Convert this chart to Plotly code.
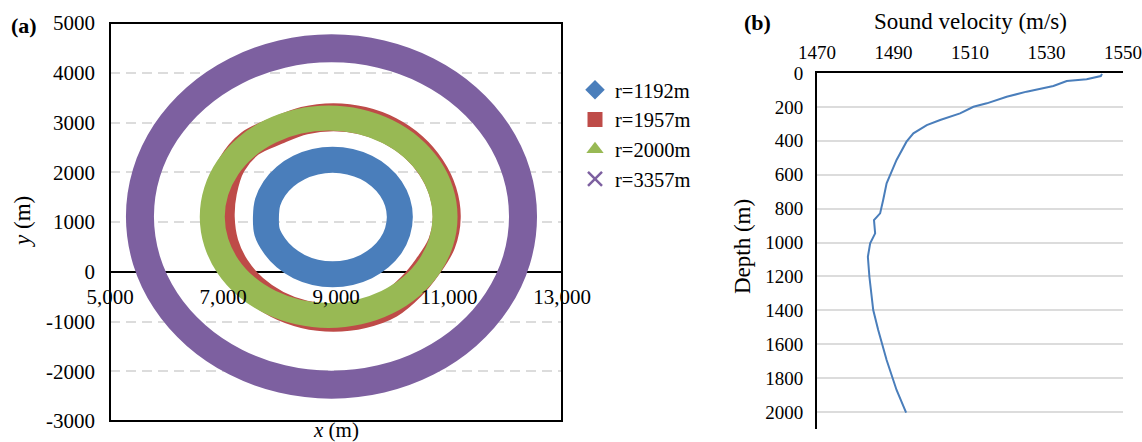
import plotly.graph_objects as go

# ---------------- data ----------------
series_names = ["r=1192m", "r=1957m", "r=2000m", "r=3357m"]
series_colors = ["#4a7ebb", "#be4b48", "#98b954", "#7d60a0"]
series_symbols = ["diamond", "square", "triangle-up", "x-thin"]

ring1192_x = [10130, 10089, 9971, 9781, 9535, 9248, 8940, 8632, 8345, 8099, 7909, 7791,
              7760, 7780, 7909, 8099, 8345, 8632, 8940, 9248, 9535, 9781, 9971, 10089]
ring1192_y = [1100, 1398, 1675, 1913, 2096, 2211, 2250, 2211, 2096, 1913, 1675, 1398,
              1100, 802, 525, 287, 104, -11, -50, -11, 104, 287, 525, 802]

ring1957_x = [10960, 10890, 10683, 10366, 9953, 9472, 8955, 8438, 7957, 7480, 7160, 7000,
              6960, 7028, 7227, 7544, 7957, 8438, 8955, 9472, 9953, 10330, 10620, 10870]
ring1957_y = [1090, 1612, 2098, 2515, 2835, 3036, 3105, 3036, 2835, 2580, 2160, 1612,
              1090, 568, 82, -335, -655, -856, -925, -856, -655, -300, 100, 568]

ring2000_x = [10930, 10860, 10654, 10327, 9900, 9403, 8870, 8337, 7840, 7413, 7086, 6880,
              6810, 6880, 7086, 7413, 7840, 8337, 8870, 9403, 9900, 10327, 10654, 10860]
ring2000_y = [1105, 1619, 2098, 2509, 2824, 3022, 3090, 3022, 2824, 2509, 2098, 1619,
              1105, 591, 112, -299, -614, -812, -880, -812, -614, -299, 112, 591]

ring3357_x = [12310, 12195, 11856, 11317, 10615, 9798, 8920, 8042, 7225, 6523, 5984, 5645,
              5530, 5645, 5984, 6523, 7225, 8042, 8920, 9798, 10615, 11317, 11856, 12195]
ring3357_y = [1110, 1985, 2800, 3500, 4037, 4375, 4490, 4375, 4037, 3500, 2800, 1985,
              1110, 235, -580, -1280, -1817, -2155, -2270, -2155, -1817, -1280, -580, 235]

ring_x = [ring1192_x, ring1957_x, ring2000_x, ring3357_x]
ring_y = [ring1192_y, ring1957_y, ring2000_y, ring3357_y]
ring_widths = [26, 28, 25, 28]

a_xticks = [5000, 7000, 9000, 11000, 13000]
a_xtick_labels = ["5,000", "7,000", "9,000", "11,000", "13,000"]
a_yticks = [-3000, -2000, -1000, 0, 1000, 2000, 3000, 4000, 5000]
a_ytick_labels = ["-3000", "-2000", "-1000", "0", "1000", "2000", "3000", "4000", "5000"]

svp_velocity = [1544.5, 1544.2, 1540.5, 1535.3, 1531.8, 1524.8, 1519.6, 1514.4, 1510.9,
                1507.4, 1502.2, 1498.7, 1495.2, 1493.4, 1490.8, 1488.2, 1487.3, 1486.5,
                1484.9, 1485.2, 1483.9, 1483.3, 1483.7, 1484.7, 1486.0, 1488.2, 1490.8, 1493.3]
svp_depth = [5, 18, 37, 47, 77, 110, 140, 179, 199, 238, 277, 307, 356, 405, 513, 651,
             749, 828, 867, 946, 1005, 1084, 1202, 1398, 1516, 1693, 1870, 2004]

b_xticks = [1470, 1490, 1510, 1530, 1550]
b_yticks = [0, 200, 400, 600, 800, 1000, 1200, 1400, 1600, 1800, 2000]

# ---------------- figure ----------------
W, H = 1142, 442
FONT = "Liberation Serif"

def px_x(p):
    return p / W

def px_y(p):
    return 1 - p / H

fig = go.Figure()

for xs, ys, c, w in zip(ring_x, ring_y, series_colors, ring_widths):
    fig.add_trace(go.Scatter(
        x=xs + xs[:1], y=ys + ys[:1], mode="lines",
        line=dict(color=c, width=w, shape="spline", smoothing=1.0),
        showlegend=False, hoverinfo="skip", xaxis="x", yaxis="y"))

for name, c, sym in zip(series_names, series_colors, series_symbols):
    mk = dict(symbol=sym, size=15, color=c)
    if sym == "x-thin":
        mk = dict(symbol=sym, size=14, color=c, line=dict(color=c, width=2.5))
    fig.add_trace(go.Scatter(x=[None], y=[None], mode="markers", name=name,
                             marker=mk, xaxis="x", yaxis="y"))

fig.add_trace(go.Scatter(x=svp_velocity, y=svp_depth, mode="lines",
                         line=dict(color="#4a7ebb", width=2),
                         showlegend=False, xaxis="x2", yaxis="y2"))

ya_dom = [px_y(421), px_y(23)]
yb_dom = [px_y(429), px_y(73)]
ya_range = [a_yticks[0], a_yticks[-1]]
zero_pos = ya_dom[0] + (0 - ya_range[0]) / (ya_range[1] - ya_range[0]) * (ya_dom[1] - ya_dom[0])

fig.update_layout(
    width=W, height=H,
    margin=dict(l=0, r=0, t=0, b=0),
    paper_bgcolor="white", plot_bgcolor="white",
    font=dict(family=FONT, color="black", size=21),
    xaxis=dict(domain=[px_x(110), px_x(562)], range=[a_xticks[0], a_xticks[-1]],
               tickvals=a_xticks, ticktext=a_xtick_labels, anchor="free", position=zero_pos,
               showgrid=False, zeroline=False, showline=False, ticks="",
               ticklabelstandoff=10, tickfont=dict(size=21), automargin=False),
    yaxis=dict(domain=ya_dom, range=ya_range, tickvals=a_yticks, ticktext=a_ytick_labels,
               showgrid=True, gridcolor="#dcdcdc", gridwidth=2, griddash="10px,6px",
               zeroline=True, zerolinecolor="black", zerolinewidth=2,
               showline=False, ticks="", ticklabelstandoff=14,
               tickfont=dict(size=21), automargin=False),
    xaxis2=dict(domain=[px_x(817), px_x(1123)], range=[b_xticks[0], b_xticks[-1]],
                tickvals=b_xticks, side="top", anchor="y2",
                showgrid=False, zeroline=False, showline=True, linecolor="black",
                linewidth=2, ticks="", ticklabelstandoff=4, tickfont=dict(size=19),
                automargin=False),
    yaxis2=dict(domain=yb_dom, range=[2100, 0], tickvals=b_yticks, anchor="x2",
                showgrid=True, gridcolor="#dcdcdc", gridwidth=2,
                zeroline=False, showline=True, linecolor="black", linewidth=2,
                ticks="", ticklabelstandoff=8, tickfont=dict(size=19), automargin=False),
    legend=dict(x=px_x(575), y=px_y(70), xanchor="left", yanchor="top",
                font=dict(size=20.5), itemwidth=30, tracegroupgap=0,
                bgcolor="rgba(0,0,0,0)"),
    showlegend=True,
)

fig.add_shape(type="rect", xref="paper", yref="paper",
              x0=px_x(110), x1=px_x(562), y0=ya_dom[0], y1=ya_dom[1],
              line=dict(color="black", width=2), layer="above")

annots = [
    dict(text="<b>(a)</b>", x=px_x(24), y=px_y(25), size=22, angle=0),
    dict(text="<b>(b)</b>", x=px_x(757), y=px_y(22), size=22, angle=0),
    dict(text="<i>y</i> (m)", x=px_x(22), y=px_y(222), size=23, angle=-90),
    dict(text="<i>x</i> (m)", x=px_x(336), y=px_y(430), size=21, angle=0),
    dict(text="Sound velocity (m/s)", x=px_x(970), y=px_y(21), size=23, angle=0),
    dict(text="Depth (m)", x=px_x(742), y=px_y(247), size=23, angle=-90),
]
for a in annots:
    fig.add_annotation(text=a["text"], x=a["x"], y=a["y"], xref="paper", yref="paper",
                       xanchor="center", yanchor="middle", showarrow=False,
                       textangle=a["angle"], font=dict(family=FONT, size=a["size"], color="black"))

fig.write_html("out.html", config={"displayModeBar": False},
               post_script="document.body.style.margin='0';document.body.style.overflow='hidden';")
